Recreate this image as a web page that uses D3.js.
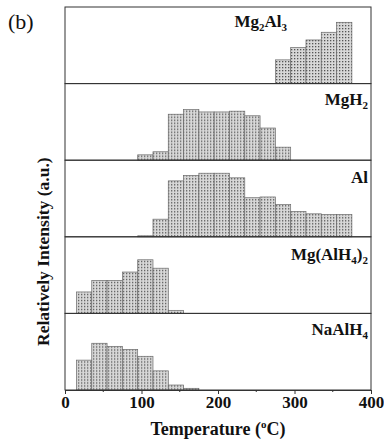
<!DOCTYPE html>
<html>
<head>
<meta charset="utf-8">
<script src="https://cdn.jsdelivr.net/npm/d3@7"></script>
<style>
  body { margin: 0; background: #fff; }
  svg { display: block; font-family: "Liberation Serif", "Times New Roman", serif; }
</style>
</head>
<body>
<div id="chart"></div>
<script>
// 20 degree bins, temperatures are bin centres
const binWidth = 20

const mg2al3Temps = [285, 305, 325, 345, 365]
const mg2al3Values = [31, 47, 57, 67, 80]

const mgh2Temps = [105, 125, 145, 165, 185, 205, 225, 245, 265, 285]
const mgh2Values = [7, 11, 60, 66, 63, 63, 64, 58, 42, 17]

const alTemps = [105, 125, 145, 165, 185, 205, 225, 245, 265, 285, 305, 325, 345, 365]
const alValues = [1.3, 23, 73, 80, 83, 83, 77, 51, 52, 42, 33, 30, 29, 29]

const mgAlh4Temps = [25, 45, 65, 85, 105, 125, 145]
const mgAlh4Values = [28, 43, 43, 54, 70, 59, 4]

const naAlh4Temps = [25, 45, 65, 85, 105, 125, 145, 165]
const naAlh4Values = [39, 61, 57, 53, 44, 25, 6.5, 2.2]

const xTicks = [0, 100, 200, 300, 400]
const xMinorTicks = [50, 150, 250, 350]

// label parts: odd entries are subscripts
const panels = [
  { name: ['Mg', '2', 'Al', '3'], temps: mg2al3Temps, values: mg2al3Values, labelX: 287, labelY: 20 },
  { name: ['MgH', '2'], temps: mgh2Temps, values: mgh2Values, labelX: 368, labelY: 21 },
  { name: ['Al'], temps: alTemps, values: alValues, labelX: 368, labelY: 23 },
  { name: ['Mg(AlH', '4', ')', '2'], temps: mgAlh4Temps, values: mgAlh4Values, labelX: 368, labelY: 23 },
  { name: ['NaAlH', '4'], temps: naAlh4Temps, values: naAlh4Values, labelX: 368, labelY: 22 }
]

const width = 384
const height = 444
const plotLeft = 65
const plotRight = 371
const plotTop = 7
const plotBottom = 390
const panelH = (plotBottom - plotTop) / panels.length

const svg = d3.select('#chart').append('svg')
  .attr('width', width)
  .attr('height', height)

// dotted fill for the bars
const defs = svg.append('defs')
const pat = defs.append('pattern')
  .attr('id', 'dots')
  .attr('patternUnits', 'userSpaceOnUse')
  .attr('width', 3)
  .attr('height', 3)
pat.append('rect').attr('width', 3).attr('height', 3).attr('fill', '#d8d8d8')
pat.append('rect').attr('width', 1.3).attr('height', 1.3).attr('fill', '#555')

const x = d3.scaleLinear().domain([0, 400]).range([plotLeft, plotRight])
const y = d3.scaleLinear().domain([0, 100]).range([panelH, 0])

panels.forEach((p, i) => {
  const g = svg.append('g').attr('transform', `translate(0,${plotTop + i * panelH})`)

  g.selectAll('rect.bar')
    .data(p.temps.map((t, j) => ({ t, v: p.values[j] })))
    .join('rect')
    .attr('class', 'bar')
    .attr('x', d => x(d.t - binWidth / 2))
    .attr('width', d => x(d.t + binWidth / 2) - x(d.t - binWidth / 2))
    .attr('y', d => y(d.v))
    .attr('height', d => panelH - y(d.v))
    .attr('fill', 'url(#dots)')
    .attr('stroke', '#6a6a6a')
    .attr('stroke-width', 0.7)

  const label = g.append('text')
    .attr('x', p.labelX)
    .attr('y', p.labelY)
    .attr('text-anchor', 'end')
    .attr('font-weight', 'bold')
    .attr('font-size', 17)
    .attr('fill', '#111')

  p.name.forEach((s, k) => {
    const sub = k % 2 === 1
    label.append('tspan')
      .attr('font-size', sub ? 11 : 17)
      .attr('dy', sub ? 4 : (k > 0 ? -4 : 0))
      .text(s)
  })

  // panel frame
  g.append('rect')
    .attr('x', plotLeft)
    .attr('y', 0)
    .attr('width', plotRight - plotLeft)
    .attr('height', panelH)
    .attr('fill', 'none')
    .attr('stroke', '#333')
    .attr('stroke-width', 1)
})

// bottom axis
const axis = svg.append('g')
  .attr('transform', `translate(0,${plotBottom})`)
  .call(d3.axisBottom(x).tickValues(xTicks).tickSize(4).tickPadding(2))
axis.select('.domain').attr('stroke', '#333')
axis.selectAll('.tick line').attr('stroke', '#333')
axis.selectAll('.tick text')
  .attr('font-family', '"Liberation Serif", serif')
  .attr('font-weight', 'bold')
  .attr('font-size', 17)
  .attr('fill', '#111')

axis.selectAll('line.minor')
  .data(xMinorTicks)
  .join('line')
  .attr('class', 'minor')
  .attr('x1', d => x(d))
  .attr('x2', d => x(d))
  .attr('y1', 0)
  .attr('y2', 2)
  .attr('stroke', '#333')

// axis titles
const xTitle = svg.append('text')
  .attr('x', (plotLeft + plotRight) / 2)
  .attr('y', 435)
  .attr('text-anchor', 'middle')
  .attr('font-weight', 'bold')
  .attr('font-size', 18)
  .attr('fill', '#111')
xTitle.append('tspan').text('Temperature (')
xTitle.append('tspan').attr('font-size', 11).attr('dy', -7).text('o')
xTitle.append('tspan').attr('dy', 7).text('C)')

svg.append('text')
  .attr('transform', 'translate(49,346) rotate(-90)')
  .attr('text-anchor', 'start')
  .attr('font-weight', 'bold')
  .attr('font-size', 17.5)
  .attr('fill', '#111')
  .text('Relatively Intensity (a.u.)')

svg.append('text')
  .attr('x', 8)
  .attr('y', 29)
  .attr('font-size', 22)
  .attr('fill', '#111')
  .text('(b)')
</script>
</body>
</html>
